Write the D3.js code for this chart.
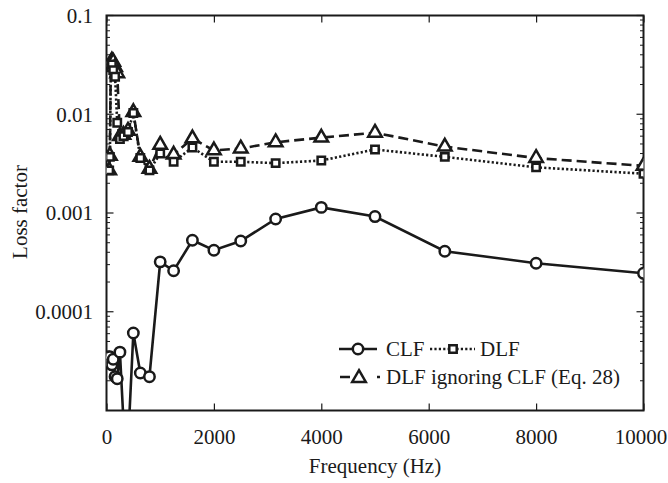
<!DOCTYPE html>
<html>
<head>
<meta charset="utf-8">
<script src="https://cdn.jsdelivr.net/npm/d3@7"></script>
<style>
  body { margin: 0; background: #fff; }
  text { font-family: "Liberation Serif", "Times New Roman", serif; fill: #1a1a1a; }
</style>
</head>
<body>
<svg id="chart" width="668" height="483"></svg>
<script>
// one-third octave band centre frequencies (Hz)
var freqs = [50, 63, 80, 100, 125, 160, 200, 250, 315, 400, 500, 630, 800,
             1000, 1250, 1600, 2000, 2500, 3150, 4000, 5000, 6300, 8000, 10000];

// coupling loss factor
var clf = [3.2e-5, 3.5e-5, 3.0e-5, 2.9e-5, 3.3e-5, 2.2e-5, 2.1e-5, 3.9e-5, 8.0e-6, 4.5e-6,
           6.1e-5, 2.4e-5, 2.2e-5,
           3.2e-4, 2.6e-4, 5.3e-4, 4.2e-4, 5.2e-4, 8.7e-4, 1.14e-3, 9.2e-4, 4.1e-4, 3.1e-4, 2.45e-4];

// damping loss factor
var dlf = [0.0027, 0.0037, 0.030, 0.032, 0.028, 0.024, 0.0082, 0.0056, 0.0060, 0.0066,
           0.0103, 0.0036, 0.0027,
           0.0040, 0.0033, 0.0046, 0.0033, 0.0033, 0.0032, 0.0034, 0.0044, 0.0037, 0.0029, 0.0025];

// damping loss factor ignoring CLF (Eq. 28)
var dlfIgn = [0.0027, 0.0038, 0.033, 0.035, 0.034, 0.030, 0.026, 0.0060, 0.0062, 0.0068,
              0.0105, 0.0037, 0.0028,
              0.0049, 0.0039, 0.0057, 0.0043, 0.0045, 0.0052, 0.0058, 0.0065, 0.0047, 0.0036, 0.0030];

var xTicks = [0, 2000, 4000, 6000, 8000, 10000];
var yTicks = [1e-4, 1e-3, 1e-2, 1e-1];
var yTickLabels = ["0.0001", "0.001", "0.01", "0.1"];

(function() {

    var svg = d3.select("#chart");
    var pLeft = 106.5, pRight = 643.5, pTop = 15.5, pBottom = 410.5;
    var ink = "#1a1a1a";
    var fs = "21px";
    var lw = 2.6, mw = 2.5;

    var x = d3.scaleLinear().domain([0, 10000]).range([pLeft, pRight]);
    var y = d3.scaleLog().domain([1e-5, 0.1]).range([pBottom, pTop]);

    svg.append("defs").append("clipPath").attr("id", "plot")
        .append("rect")
        .attr("x", pLeft).attr("y", pTop)
        .attr("width", pRight - pLeft).attr("height", pBottom - pTop);

    // minor log ticks 2..9 in each decade
    var minor = [];
    [1e-5, 1e-4, 1e-3, 1e-2].forEach(function(d) {
        for (var k = 2; k <= 9; k++) minor.push(d * k);
    });

    function yAxis(g, side) {
        var dir = side === "left" ? 1 : -1;
        var x0 = side === "left" ? pLeft : pRight;
        g.selectAll("line.major").data(yTicks).enter().append("line")
            .attr("x1", x0).attr("x2", x0 + dir * 7)
            .attr("y1", function(d) { return y(d); })
            .attr("y2", function(d) { return y(d); })
            .attr("stroke", ink).attr("stroke-width", 1.2);
        g.selectAll("line.minor").data(minor).enter().append("line")
            .attr("x1", x0).attr("x2", x0 + dir * 3.5)
            .attr("y1", function(d) { return y(d); })
            .attr("y2", function(d) { return y(d); })
            .attr("stroke", ink).attr("stroke-width", 1);
    }
    yAxis(svg.append("g"), "left");
    yAxis(svg.append("g"), "right");

    svg.append("g").selectAll("text").data(yTicks).enter().append("text")
        .attr("x", 93).attr("y", function(d) { return y(d); })
        .attr("dy", "0.35em").attr("text-anchor", "end")
        .style("font-size", fs)
        .text(function(d, i) { return yTickLabels[i]; });

    // x ticks bottom and top, pointing inward
    var xAxisB = d3.axisBottom(x).tickValues(xTicks).tickSizeInner(-7).tickSizeOuter(0)
        .tickPadding(19).tickFormat(d3.format("d"));
    var gx = svg.append("g").attr("transform", "translate(0," + pBottom + ")").call(xAxisB);
    gx.select(".domain").remove();
    gx.selectAll("line").attr("stroke", ink).attr("stroke-width", 1.2);
    gx.selectAll("text").style("font-size", fs).attr("font-family", null).attr("fill", ink)
        .attr("dx", function(d) { return d === 10000 ? -3 : 0; });

    var xAxisT = d3.axisTop(x).tickValues(xTicks).tickSizeInner(-7).tickSizeOuter(0).tickFormat("");
    var gt = svg.append("g").attr("transform", "translate(0," + pTop + ")").call(xAxisT);
    gt.select(".domain").remove();
    gt.selectAll("line").attr("stroke", ink).attr("stroke-width", 1.2);

    svg.append("rect")
        .attr("x", pLeft).attr("y", pTop)
        .attr("width", pRight - pLeft).attr("height", pBottom - pTop)
        .attr("fill", "none").attr("stroke", ink).attr("stroke-width", 2);

    // axis titles
    svg.append("text")
        .attr("x", (pLeft + pRight) / 2).attr("y", 473)
        .attr("text-anchor", "middle").style("font-size", fs)
        .text("Frequency (Hz)");
    svg.append("text")
        .attr("transform", "translate(27,212) rotate(-90)")
        .attr("text-anchor", "middle").style("font-size", fs)
        .text("Loss factor");

    var series = [
        { name: "ign", values: dlfIgn, dash: "10,5", marker: "triangle", size: 80 },
        { name: "dlf", values: dlf, dash: "2.2,2.2", marker: "square", size: 55 },
        { name: "clf", values: clf, dash: null, marker: "circle", size: 85 }
    ];

    var symbolType = { circle: d3.symbolCircle, square: d3.symbolSquare, triangle: d3.symbolTriangle };

    var plot = svg.append("g").attr("clip-path", "url(#plot)");
    var line = d3.line()
        .x(function(d, i) { return x(freqs[i]); })
        .y(function(d) { return y(d); });

    series.forEach(function(s) {
        plot.append("path")
            .datum(s.values)
            .attr("d", line)
            .attr("fill", "none")
            .attr("stroke", ink)
            .attr("stroke-width", lw)
            .attr("stroke-dasharray", s.dash);
    });

    series.forEach(function(s) {
        plot.selectAll("path.m-" + s.name).data(s.values).enter().append("path")
            .attr("class", "m-" + s.name)
            .attr("transform", function(d, i) {
                return "translate(" + x(freqs[i]) + "," + y(d) + ")";
            })
            .attr("d", d3.symbol().type(symbolType[s.marker]).size(s.size))
            .attr("fill", "#fff")
            .attr("stroke", ink)
            .attr("stroke-width", mw);
    });

    // legend
    var leg = svg.append("g");
    function legMarker(type, size, cx, cy) {
        leg.append("path")
            .attr("transform", "translate(" + cx + "," + cy + ")")
            .attr("d", d3.symbol().type(symbolType[type]).size(size))
            .attr("fill", "#fff").attr("stroke", ink).attr("stroke-width", mw);
    }
    var r1 = 349, r2 = 377;
    leg.append("line").attr("x1", 339).attr("x2", 377).attr("y1", r1).attr("y2", r1)
        .attr("stroke", ink).attr("stroke-width", lw);
    legMarker("circle", 85, 358, r1);
    leg.append("text").attr("x", 386).attr("y", r1).attr("dy", "0.35em")
        .style("font-size", fs).text("CLF");
    leg.append("line").attr("x1", 430).attr("x2", 475).attr("y1", r1).attr("y2", r1)
        .attr("stroke", ink).attr("stroke-width", lw).attr("stroke-dasharray", "2.2,2.2");
    legMarker("square", 55, 453, r1);
    leg.append("text").attr("x", 480).attr("y", r1).attr("dy", "0.35em")
        .style("font-size", fs).text("DLF");
    leg.append("line").attr("x1", 340).attr("x2", 382).attr("y1", r2).attr("y2", r2)
        .attr("stroke", ink).attr("stroke-width", lw).attr("stroke-dasharray", "10,27,3,10");
    legMarker("triangle", 80, 359, r2 + 1);
    leg.append("text").attr("x", 386).attr("y", r2).attr("dy", "0.35em")
        .style("font-size", fs).text("DLF ignoring CLF (Eq. 28)");

})();
</script>
</body>
</html>
